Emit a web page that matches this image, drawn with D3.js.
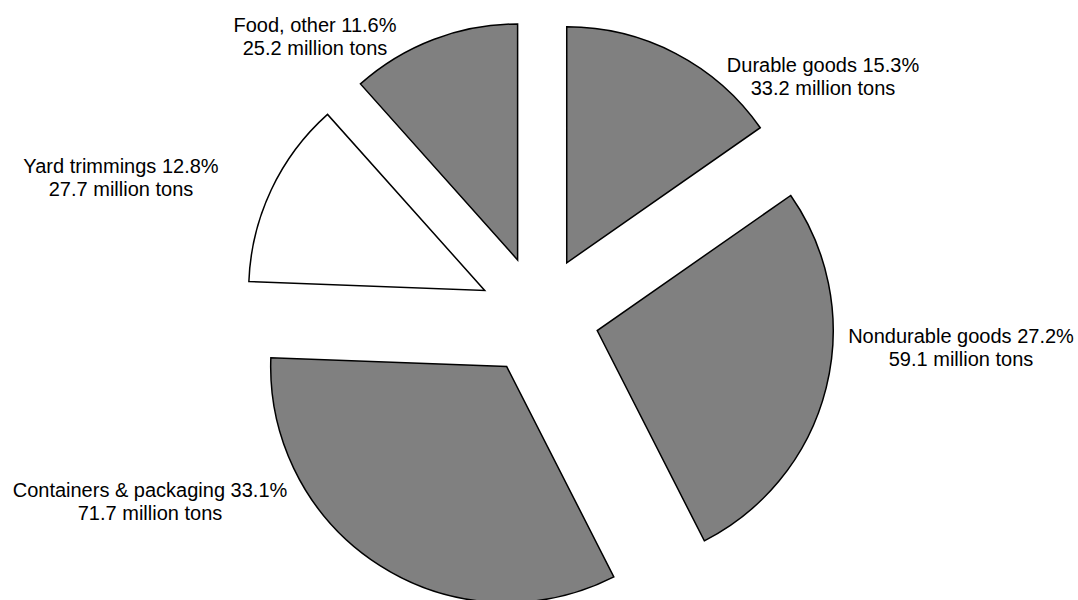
<!DOCTYPE html>
<html>
<head>
<meta charset="utf-8">
<script src="https://cdn.jsdelivr.net/npm/d3@7"></script>
<style>
  html, body { margin: 0; padding: 0; background: #fff; }
  svg { display: block; }
  text { font-family: "Liberation Sans", Arial, sans-serif; font-size: 20px; fill: #000; }
</style>
</head>
<body>
<svg id="chart" width="1078" height="600"></svg>
<script>
const categories = ["Durable goods", "Nondurable goods", "Containers & packaging", "Yard trimmings", "Food, other"];
const percents = [15.3, 27.2, 33.1, 12.8, 11.6];
const tons = [33.2, 59.1, 71.7, 27.7, 25.2];
const fills = ["#808080", "#808080", "#808080", "#ffffff", "#808080"];
// label anchor positions (center x, first baseline y)
const labelPos = [[823, 72], [961, 343], [150, 497], [121, 173], [315, 32]];

const svg = d3.select("#chart");
const cx = 539, cy = 316, r = 236, explode = 60;

const data = categories.map((c, i) => ({ name: c, pct: percents[i], tons: tons[i], fill: fills[i], lp: labelPos[i] }));
const pie = d3.pie().sort(null).value(d => d.pct);
const arc = d3.arc().innerRadius(0).outerRadius(r);

const g = svg.append("g").attr("transform", `translate(${cx},${cy})`);
g.selectAll("path").data(pie(data)).join("path")
  .attr("d", arc)
  .attr("transform", d => {
    const a = (d.startAngle + d.endAngle) / 2;
    return `translate(${explode * Math.sin(a)},${-explode * Math.cos(a)})`;
  })
  .attr("fill", d => d.data.fill)
  .attr("stroke", "#000")
  .attr("stroke-width", 1.5)
  .attr("stroke-linejoin", "miter");

const labels = svg.selectAll("text.lbl").data(data).join("text")
  .attr("class", "lbl")
  .attr("text-anchor", "middle")
  .attr("x", d => d.lp[0])
  .attr("y", d => d.lp[1]);
labels.append("tspan").attr("x", d => d.lp[0]).text(d => `${d.name} ${d.pct.toFixed(1)}%`);
labels.append("tspan").attr("x", d => d.lp[0]).attr("dy", 23).text(d => `${d.tons.toFixed(1)} million tons`);
</script>
</body>
</html>
